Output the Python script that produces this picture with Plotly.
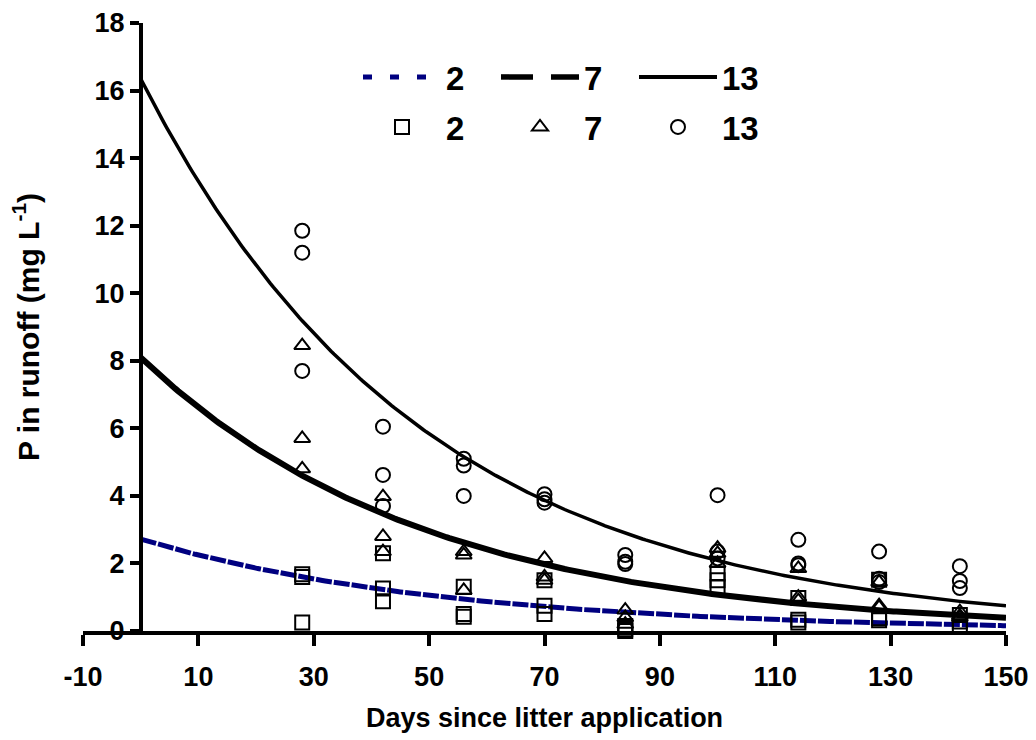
import numpy as np
import plotly.graph_objects as go

# Sampling dates (days since litter application)
days = [28, 42, 56, 70, 84, 100, 114, 128, 142]

# Runoff P concentration (mg/L), three replicate plots per date, by litter rate
p_rate2 = [
    [1.68, 1.60, 0.25],
    [2.30, 1.26, 0.88],
    [1.31, 0.50, 0.42],
    [1.50, 0.75, 0.50],
    [0.15, 0.05, 0.00],
    [1.70, 1.50, 1.30],
    [0.98, 0.33, 0.25],
    [1.52, 0.38, 0.32],
    [0.47, 0.28, 0.13],
]
p_rate7 = [
    [8.45, 5.70, 4.80],
    [3.98, 2.80, 2.35],
    [2.35, 2.25, 1.20],
    [2.15, 1.60, 1.50],
    [0.62, 0.40, 0.20],
    [2.45, 2.30, 2.00],
    [1.85, 1.00, 0.90],
    [1.45, 0.75, 0.70],
    [0.57, 0.45, 0.40],
]
p_rate13 = [
    [11.85, 11.20, 7.70],
    [6.05, 4.62, 3.70],
    [5.10, 4.90, 4.00],
    [4.05, 3.90, 3.80],
    [2.25, 2.05, 1.98],
    [4.02, 2.35, 2.15],
    [2.70, 2.00, 1.95],
    [2.35, 1.55, 1.45],
    [1.92, 1.48, 1.27],
]

rate_labels = ["2", "7", "13"]

# Exponential decay fits  P = a * exp(-k * day)
fit_a = [2.72, 8.10, 16.35]
fit_k = [0.0190, 0.0202, 0.0206]

x_ticks = [-10, 10, 30, 50, 70, 90, 110, 130, 150]
y_ticks = [0, 2, 4, 6, 8, 10, 12, 14, 16, 18]

FONT = "Liberation Sans, Arial, sans-serif"
NAVY = "#000080"

fig = go.Figure()

# Fitted curves drawn on the plot
curve_x = np.linspace(0, 150, 301)
curve_styles = [
    dict(color=NAVY, width=5, dash="16px,2px"),
    dict(color="black", width=6),
    dict(color="black", width=3.5),
]
for a, k, style in zip(fit_a, fit_k, curve_styles):
    fig.add_trace(go.Scatter(
        x=curve_x, y=a * np.exp(-k * curve_x), mode="lines",
        line=style, showlegend=False, hoverinfo="skip",
    ))

# Legend keys for the fitted curves
key_styles = [
    dict(color=NAVY, width=5, dash="9px,18px"),
    dict(color="black", width=5.5, dash="32px,18px"),
    dict(color="black", width=4),
]
for label, style in zip(rate_labels, key_styles):
    fig.add_trace(go.Scatter(
        x=[None], y=[None], mode="lines", line=style,
        name=label, legend="legend",
    ))

# Observed values
symbols = ["square-open", "triangle-up-open", "circle-open"]
for label, values, sym in zip(rate_labels, [p_rate2, p_rate7, p_rate13], symbols):
    xs, ys = [], []
    for d, reps in zip(days, values):
        for v in reps:
            xs.append(d)
            ys.append(v)
    fig.add_trace(go.Scatter(
        x=xs, y=ys, mode="markers", name=label, legend="legend2",
        marker=dict(symbol=sym, size=14, color="black",
                    line=dict(color="black", width=2)),
        cliponaxis=False,
    ))

PLOT_L, PLOT_R, PLOT_T, PLOT_B = 83, 30, 23, 109
plot_w = 1036 - PLOT_L - PLOT_R
plot_h = 740 - PLOT_T - PLOT_B


def px_to_paper_x(px):
    return (px - PLOT_L) / plot_w


def px_to_paper_y(py):
    return (740 - PLOT_B - py) / plot_h


legend_common = dict(
    orientation="h", xanchor="left", yanchor="middle",
    itemwidth=78, entrywidth=45, entrywidthmode="pixels",
    bgcolor="rgba(0,0,0,0)", borderwidth=0,
    font=dict(family=FONT, size=33, color="black", weight="bold"),
)

fig.update_layout(
    width=1036, height=740,
    margin=dict(l=PLOT_L, r=PLOT_R, t=PLOT_T, b=PLOT_B, autoexpand=False),
    paper_bgcolor="white", plot_bgcolor="white",
    font=dict(family=FONT, color="black"),
    xaxis=dict(
        range=[-10, 150], tickvals=x_ticks, ticktext=[str(t) for t in x_ticks],
        showline=True, linecolor="black", linewidth=4,
        ticks="outside", ticklen=11, tickwidth=4, tickcolor="black",
        showgrid=False, zeroline=False, ticklabelstandoff=8,
        tickfont=dict(family=FONT, size=27, color="black", weight="bold"),
    ),
    yaxis=dict(
        range=[0, 18], tickvals=y_ticks, anchor="free",
        position=px_to_paper_x(141),
        showline=True, linecolor="black", linewidth=4,
        ticks="outside", ticklen=9, tickwidth=4, tickcolor="black",
        showgrid=False, zeroline=False, ticklabelstandoff=0,
        tickfont=dict(family=FONT, size=27, color="black", weight="bold"),
    ),
    legend=dict(x=px_to_paper_x(358), y=px_to_paper_y(77), **legend_common),
    legend2=dict(x=px_to_paper_x(358), y=px_to_paper_y(127), **legend_common),
    annotations=[
        dict(text="P in runoff (mg L<sup>-1</sup>)", textangle=-90,
             xref="paper", yref="paper", x=px_to_paper_x(26), y=0.5,
             xanchor="center", yanchor="middle", showarrow=False,
             font=dict(family=FONT, size=30, color="black", weight="bold")),
        dict(text="Days since litter application",
             xref="paper", yref="paper", x=0.5, y=px_to_paper_y(718),
             xanchor="center", yanchor="middle", showarrow=False,
             font=dict(family=FONT, size=27, color="black", weight="bold")),
    ],
)

fig.write_html("out.html")
